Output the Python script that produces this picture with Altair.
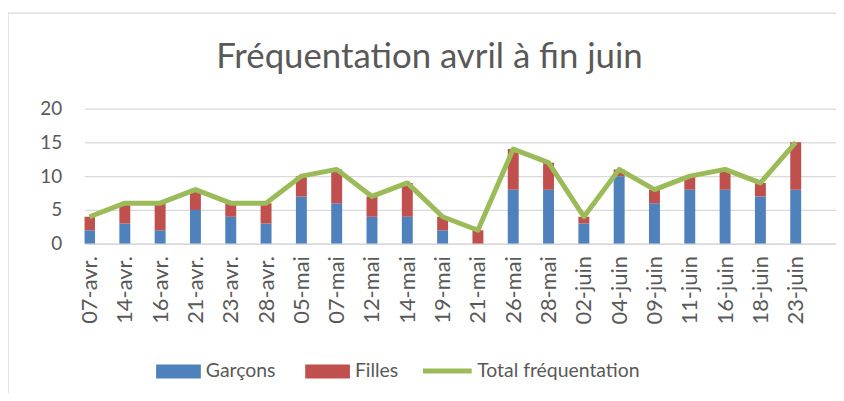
import altair as alt
import pandas as pd

dates = ["07-avr.", "14-avr.", "16-avr.", "21-avr.", "23-avr.", "28-avr.", "05-mai",
         "07-mai", "12-mai", "14-mai", "19-mai", "21-mai", "26-mai", "28-mai",
         "02-juin", "04-juin", "09-juin", "11-juin", "16-juin", "18-juin", "23-juin"]
garcons = [2, 3, 2, 5, 4, 3, 7, 6, 4, 4, 2, 0, 8, 8, 3, 10, 6, 8, 8, 7, 8]
filles = [2, 3, 4, 3, 2, 3, 3, 5, 3, 5, 2, 2, 6, 4, 1, 1, 2, 2, 3, 2, 7]
total = [4, 6, 6, 8, 6, 6, 10, 11, 7, 9, 4, 2, 14, 12, 4, 11, 8, 10, 11, 9, 15]
y_ticks = [0, 5, 10, 15, 20]

title_text = "Fréquentation avril à fin juin"
series_bars = ["Garçons", "Filles"]
series_line = ["Total fréquentation"]
col_bars = ["#4F81BD", "#C0504D"]
col_line = ["#9BBB59"]

FONT = "Lato"
TXT = "#595959"
GRID = "#D9D9D9"

rows = []
for i, d in enumerate(dates):
    rows.append({"idx": i, "date": d, "serie": "Garçons", "ordre": 0, "val": garcons[i]})
    rows.append({"idx": i, "date": d, "serie": "Filles", "ordre": 1, "val": filles[i]})
bars_df = pd.DataFrame(rows)
line_df = pd.DataFrame({"idx": list(range(len(dates))), "date": dates, "total": total,
                        "serie": series_line * len(dates)})

label_expr = "[" + ",".join("'" + d + "'" for d in dates) + "][datum.value]"

x_scale = alt.Scale(domain=[0, 21], nice=False, zero=False)
x_axis = alt.Axis(values=list(range(len(dates))), labelExpr=label_expr,
                  labelAngle=-90, labelFont=FONT, labelFontSize=22,
                  labelColor=TXT, labelPadding=12, labelOverlap=False,
                  ticks=False, grid=False, tickCount=21,
                  domain=True, domainColor=GRID, domainWidth=1.3, title=None)

y_scale = alt.Scale(domain=[0, 20], nice=False)
y_axis = alt.Axis(values=y_ticks, tickCount=5, labelFont=FONT, labelFontSize=19,
                  labelColor=TXT, labelPadding=23, labelOverlap=False, ticks=False,
                  domain=False, grid=True, gridColor=GRID, gridWidth=1.3, title=None)

bars = alt.Chart(bars_df).mark_bar(size=11, clip=True).encode(
    x=alt.X("idx:Q", scale=x_scale, axis=x_axis),
    y=alt.Y("val:Q", stack="zero", scale=y_scale, axis=y_axis),
    fill=alt.Fill("serie:N", scale=alt.Scale(domain=series_bars, range=col_bars),
                  legend=alt.Legend(orient="none", legendX=72, legendY=242,
                                    direction="horizontal", title=None,
                                    symbolType="M-1,-0.31H1V0.31H-1Z", symbolSize=2025,
                                    symbolStrokeWidth=0, labelFont=FONT, labelFontSize=19.5,
                                    labelLimit=300,
                                    labelColor=TXT, labelOffset=5, columnPadding=29)),
    order=alt.Order("ordre:Q"),
)

line = alt.Chart(line_df).mark_line(strokeWidth=5, strokeJoin="round", clip=True).encode(
    x=alt.X("idx:Q", scale=x_scale, axis=x_axis),
    y=alt.Y("total:Q", scale=y_scale, axis=y_axis),
    stroke=alt.Stroke("serie:N", scale=alt.Scale(domain=series_line, range=col_line),
                      legend=alt.Legend(orient="none", legendX=338, legendY=237,
                                        direction="horizontal", title=None,
                                        symbolType="stroke", symbolSize=2401,
                                        symbolStrokeWidth=5, labelFont=FONT,
                                        labelLimit=300,
                                        labelFontSize=19.5, labelColor=TXT, labelOffset=3)),
)

frame_df = pd.DataFrame({"k": [0]})
border = alt.Chart(frame_df).mark_rect(
    fill=None, stroke=GRID, strokeWidth=1.3
).encode(x=alt.value(-77), x2=alt.value(900), y=alt.value(-96), y2=alt.value(400))

title = alt.Chart(pd.DataFrame({"t": [title_text]})).mark_text(
    font=FONT, fontSize=35, color=TXT, align="center", baseline="alphabetic"
).encode(text="t:N", x=alt.value(347), y=alt.value(-41))

chart = alt.layer(border, bars, line, title).resolve_scale(
    fill="independent", stroke="independent"
).properties(
    width=756, height=136,
    padding={"left": 77, "top": 100, "right": 0, "bottom": 149},
    autosize=alt.AutoSizeParams(type="none"),
).configure_view(stroke=None)

chart.save("out.html", embed_options={"renderer": "svg", "actions": False})
